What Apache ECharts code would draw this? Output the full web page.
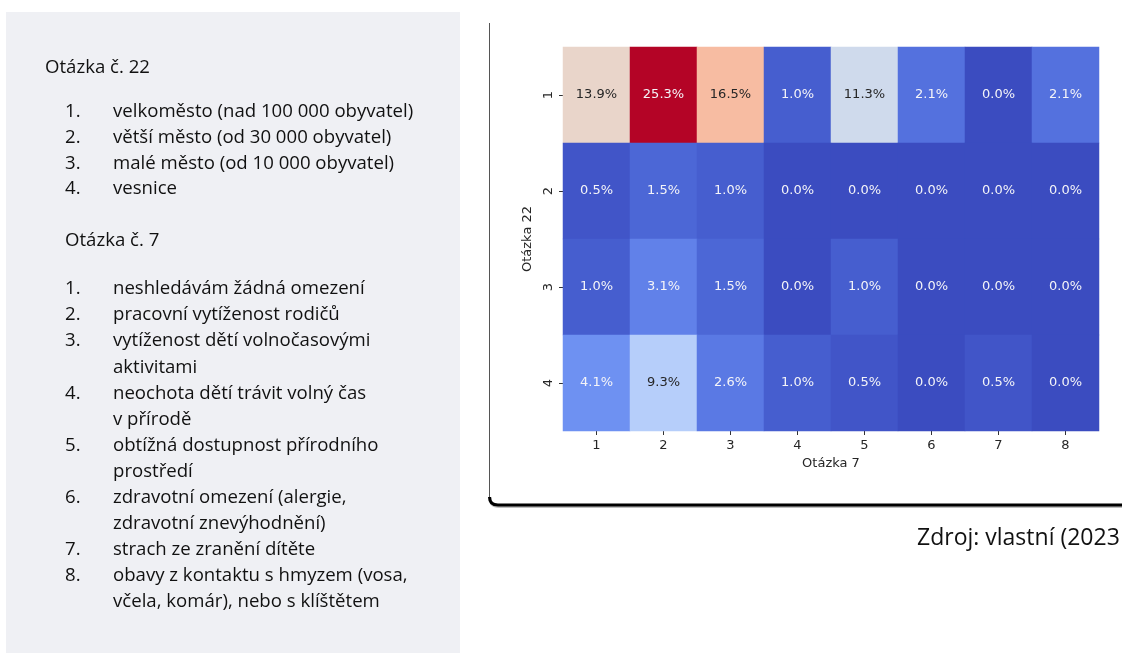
<!DOCTYPE html>
<html>
<head>
<meta charset="utf-8">
<script src="https://cdn.jsdelivr.net/npm/echarts@6/dist/echarts.min.js"></script>
<style>
html,body{margin:0;padding:0;background:#fff;}
#chart{width:1122px;height:653px;}
</style>
</head>
<body>
<div id="chart"></div>
<script>
// ---- data ----
var q7Categories = ['1','2','3','4','5','6','7','8'];
var q22Categories = ['1','2','3','4'];
var row1 = [13.9, 25.3, 16.5, 1.0, 11.3, 2.1, 0.0, 2.1];
var row2 = [0.5, 1.5, 1.0, 0.0, 0.0, 0.0, 0.0, 0.0];
var row3 = [1.0, 3.1, 1.5, 0.0, 1.0, 0.0, 0.0, 0.0];
var row4 = [4.1, 9.3, 2.6, 1.0, 0.5, 0.0, 0.5, 0.0];
var xAxisTitle = 'Otázka 7';
var yAxisTitle = 'Otázka 22';
var q22Title = 'Otázka č. 22';
var q22Items = ['velkoměsto (nad 100 000 obyvatel)','větší město (od 30 000 obyvatel)','malé město (od 10 000 obyvatel)','vesnice'];
var q7Title = 'Otázka č. 7';
var q7Items = [
  ['neshledávám žádná omezení'],
  ['pracovní vytíženost rodičů'],
  ['vytíženost dětí volnočasovými','aktivitami'],
  ['neochota dětí trávit volný čas','v přírodě'],
  ['obtížná dostupnost přírodního','prostředí'],
  ['zdravotní omezení (alergie,','zdravotní znevýhodnění)'],
  ['strach ze zranění dítěte'],
  ['obavy z kontaktu s hmyzem (vosa,','včela, komár), nebo s klíštětem']
];
var sourceText = 'Zdroj: vlastní (2023';

// coolwarm colormap
var coolwarm = ['#3b4cc0','#445acc','#4d68d7','#5775e1','#6282ea','#6c8ff1','#779af7','#82a5fb','#8db0fe','#98b9ff','#a3c2fe','#aec9fc','#b8d0f9','#c2d5f4','#ccd9ee','#d5dbe6','#dddddd','#e5d8d1','#ecd3c5','#f1ccb9','#f5c4ad','#f7bba0','#f7b194','#f6a687','#f49a7b','#f18d6f','#ec7f63','#e57058','#de604d','#d55042','#cb3e38','#c0282f','#b40426'];

var rows = [row1,row2,row3,row4];
var vmax = Math.max.apply(null, row1.concat(row2,row3,row4));

function hexToRgb(h){return [parseInt(h.substr(1,2),16),parseInt(h.substr(3,2),16),parseInt(h.substr(5,2),16)];}
function cmap(t){
  t = Math.max(0, Math.min(1, t));
  var p = t*(coolwarm.length-1), i = Math.floor(p), f = p-i;
  if (i >= coolwarm.length-1) return hexToRgb(coolwarm[coolwarm.length-1]);
  var a = hexToRgb(coolwarm[i]), b = hexToRgb(coolwarm[i+1]);
  return [a[0]+(b[0]-a[0])*f, a[1]+(b[1]-a[1])*f, a[2]+(b[2]-a[2])*f];
}
function lum(rgb){
  var c = rgb.map(function(v){v/=255; return v<=0.03928? v/12.92 : Math.pow((v+0.055)/1.055,2.4);});
  return 0.2126*c[0]+0.7152*c[1]+0.0722*c[2];
}

var heatData = [];
rows.forEach(function(r, yi){
  r.forEach(function(v, xi){
    var l = lum(cmap(v/vmax));
    heatData.push({value:[xi, yi, v], label:{color: l > 0.408 ? '#262626' : '#f4f4f8'}});
  });
});

// ---- left panel texts ----
var txtFont = '"Open Sans", "Noto Sans", sans-serif';
var txtSize = 18.6;
var graphics = [];
graphics.push({type:'rect', shape:{x:6,y:12,width:454,height:641}, style:{fill:'#eff0f4'}, z:0});
graphics.push({type:'text', x:45, y:68, style:{text:q22Title, font: txtSize+'px '+txtFont, fill:'#111', textVerticalAlign:'middle'}});
var y0 = 112, lh = 25.7;
q22Items.forEach(function(t, i){
  graphics.push({type:'text', x:65, y:y0+i*lh, style:{text:(i+1)+'.', font: txtSize+'px '+txtFont, fill:'#111', textVerticalAlign:'middle'}});
  graphics.push({type:'text', x:113, y:y0+i*lh, style:{text:t, font: txtSize+'px '+txtFont, fill:'#111', textVerticalAlign:'middle'}});
});
graphics.push({type:'text', x:65, y:241, style:{text:q7Title, font: txtSize+'px '+txtFont, fill:'#111', textVerticalAlign:'middle'}});
var yy = 289, lh2 = 26.1;
q7Items.forEach(function(lines, i){
  graphics.push({type:'text', x:65, y:yy, style:{text:(i+1)+'.', font: txtSize+'px '+txtFont, fill:'#111', textVerticalAlign:'middle'}});
  lines.forEach(function(l){
    graphics.push({type:'text', x:113, y:yy, style:{text:l, font: txtSize+'px '+txtFont, fill:'#111', textVerticalAlign:'middle'}});
    yy += lh2;
  });
});
// frame
graphics.push({type:'line', shape:{x1:489.5,y1:23,x2:489.5,y2:497}, style:{stroke:'#555', lineWidth:1}});
graphics.push({type:'bezierCurve', shape:{x1:490,y1:497,cpx1:490,cpy1:506.5,x2:499,y2:506.5}, style:{stroke:'rgba(0,0,0,0.25)', lineWidth:3, fill:null}});
graphics.push({type:'line', shape:{x1:499,y1:506.5,x2:1122,y2:506.5}, style:{stroke:'rgba(0,0,0,0.25)', lineWidth:3}});
graphics.push({type:'bezierCurve', shape:{x1:489.5,y1:497,cpx1:489.5,cpy1:505,x2:498,y2:505}, style:{stroke:'#000', lineWidth:3, fill:null}});
graphics.push({type:'line', shape:{x1:498,y1:505,x2:1122,y2:505}, style:{stroke:'#000', lineWidth:3}});
graphics.push({type:'text', x:917, y:538, style:{text:sourceText, font:'23px '+txtFont, fill:'#111', textVerticalAlign:'middle'}});

var chart = echarts.init(document.getElementById('chart'), null, {renderer:'canvas'});
chart.setOption({
  backgroundColor:'#ffffff',
  animation:false,
  graphic: graphics,
  grid:{left:563, top:47, width:536, height:384, containLabel:false},
  xAxis:{
    type:'category', data:q7Categories, position:'bottom',
    name:xAxisTitle, nameLocation:'middle', nameGap:26,
    nameTextStyle:{fontFamily:'DejaVu Sans', fontSize:13, color:'#262626'},
    axisLine:{show:false}, splitLine:{show:false},
    axisTick:{show:true, alignWithLabel:true, length:4, lineStyle:{color:'#333'}},
    axisLabel:{fontFamily:'DejaVu Sans', fontSize:13, color:'#262626', margin:8}
  },
  yAxis:{
    type:'category', data:q22Categories, inverse:true,
    name:yAxisTitle, nameLocation:'middle', nameGap:29, nameRotate:90,
    nameTextStyle:{fontFamily:'DejaVu Sans', fontSize:13, color:'#262626'},
    axisLine:{show:false}, splitLine:{show:false},
    axisTick:{show:true, alignWithLabel:true, length:4, lineStyle:{color:'#333'}},
    axisLabel:{fontFamily:'DejaVu Sans', fontSize:13, color:'#262626', margin:8, rotate:90}
  },
  visualMap:{show:false, min:0, max:vmax, dimension:2, inRange:{color:coolwarm}},
  series:[{
    type:'heatmap', data:heatData,
    label:{show:true, fontFamily:'DejaVu Sans', fontSize:13,
      formatter:function(p){return p.value[2].toFixed(1)+'%';}},
    itemStyle:{borderWidth:0},
    emphasis:{disabled:true}
  }]
});
</script>
</body>
</html>
